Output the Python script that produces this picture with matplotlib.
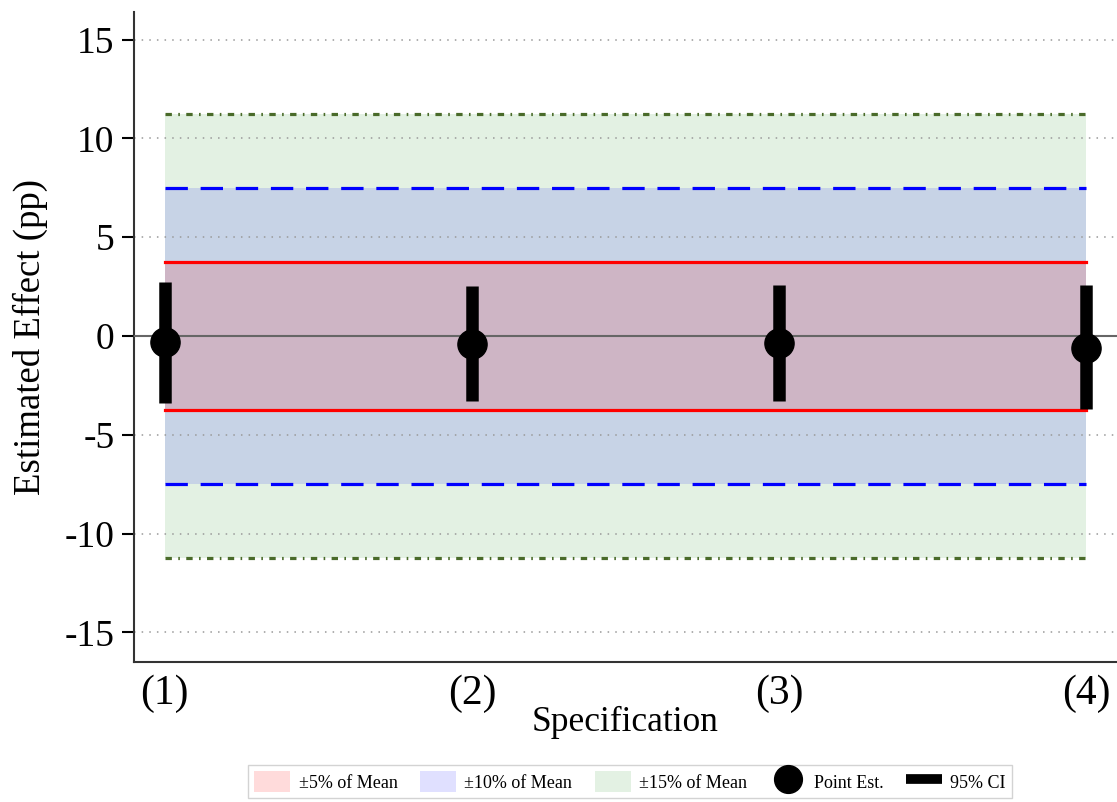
import matplotlib.pyplot as plt
from matplotlib.patches import Patch
from matplotlib.lines import Line2D

plt.rcParams['font.family'] = ['Liberation Serif', 'DejaVu Serif']

specs = [1, 2, 3, 4]
spec_labels = ['(1)', '(2)', '(3)', '(4)']
point_est = [-0.3, -0.4, -0.35, -0.6]
ci_low = [-3.4, -3.3, -3.3, -3.7]
ci_high = [2.75, 2.55, 2.6, 2.6]
band5 = 3.75
band10 = 7.5
band15 = 11.25
yticks = [-15, -10, -5, 0, 5, 10, 15]

fig = plt.figure(figsize=(11.17, 8.02), dpi=100)
ax = fig.add_axes([0.12, 0.1746, 0.88, 0.8104])

ax.fill_between([1, 4], -band15, band15, color='green', alpha=0.11, lw=0, zorder=1)
ax.fill_between([1, 4], -band10, band10, color='blue', alpha=0.12, lw=0, zorder=1)
ax.fill_between([1, 4], -band5, band5, color='red', alpha=0.14, lw=0, zorder=1)

for y in yticks:
    ax.axhline(y, color='#999999', lw=1.1, ls=(0, (1, 4)), zorder=2)

for s in (1, -1):
    ax.plot([1, 4], [s * band5] * 2, color='red', lw=2.3, zorder=3)
    ax.plot([1, 4], [s * band10] * 2, color='blue', lw=2.3, ls=(0, (7, 4)), zorder=3)
    ax.plot([1, 4], [s * band15] * 2, color='#4a6b2a', lw=2.3, ls=(0, (2, 2, 0.5, 2)), zorder=3)

ax.axhline(0, color='#666666', lw=1.5, zorder=3)

ax.vlines(specs, ci_low, ci_high, color='black', lw=9, zorder=4)
ax.plot(specs, point_est, 'o', color='black', ms=21, zorder=5)

ax.set_xlim(0.9, 4.1)
ax.set_ylim(-16.5, 16.4)
ax.set_yticks(yticks)
ax.set_yticklabels([str(v) for v in yticks])
ax.set_xticks(specs)
ax.set_xticklabels(spec_labels)
ax.tick_params(axis='y', labelsize=27, length=9, width=1.5, direction='out', pad=5)
ax.tick_params(axis='x', labelsize=30, length=0, pad=9)
ax.spines['top'].set_visible(False)
ax.spines['right'].set_visible(False)
ax.spines['left'].set_linewidth(1.5)
ax.spines['bottom'].set_linewidth(1.5)
ax.spines['left'].set_color('#333333')
ax.spines['bottom'].set_color('#333333')

ax.set_ylabel('Estimated Effect (pp)', fontsize=26.5)
ax.yaxis.set_label_coords(-0.088, 0.5)
ax.set_xlabel('Specification', fontsize=25.5)
ax.xaxis.set_label_coords(0.5, -0.068)

handles = [
    Patch(facecolor='red', alpha=0.14, edgecolor='none'),
    Patch(facecolor='blue', alpha=0.12, edgecolor='none'),
    Patch(facecolor='green', alpha=0.11, edgecolor='none'),
    Line2D([], [], marker='o', color='black', ls='none', ms=20),
    Line2D([], [], color='black', lw=7, solid_capstyle='butt'),
]
labels = ['±5% of Mean', '±10% of Mean', '±15% of Mean', 'Point Est.', '95% CI']
fig.legend(handles, labels, loc='center', bbox_to_anchor=(0.564, 0.0255), ncol=5,
           fontsize=13, frameon=True, fancybox=False, edgecolor='#c8c8c8',
           handlelength=2.0, handleheight=1.4, handletextpad=0.45,
           columnspacing=1.25, borderpad=0.35)

fig.savefig('out.png', dpi=100)
